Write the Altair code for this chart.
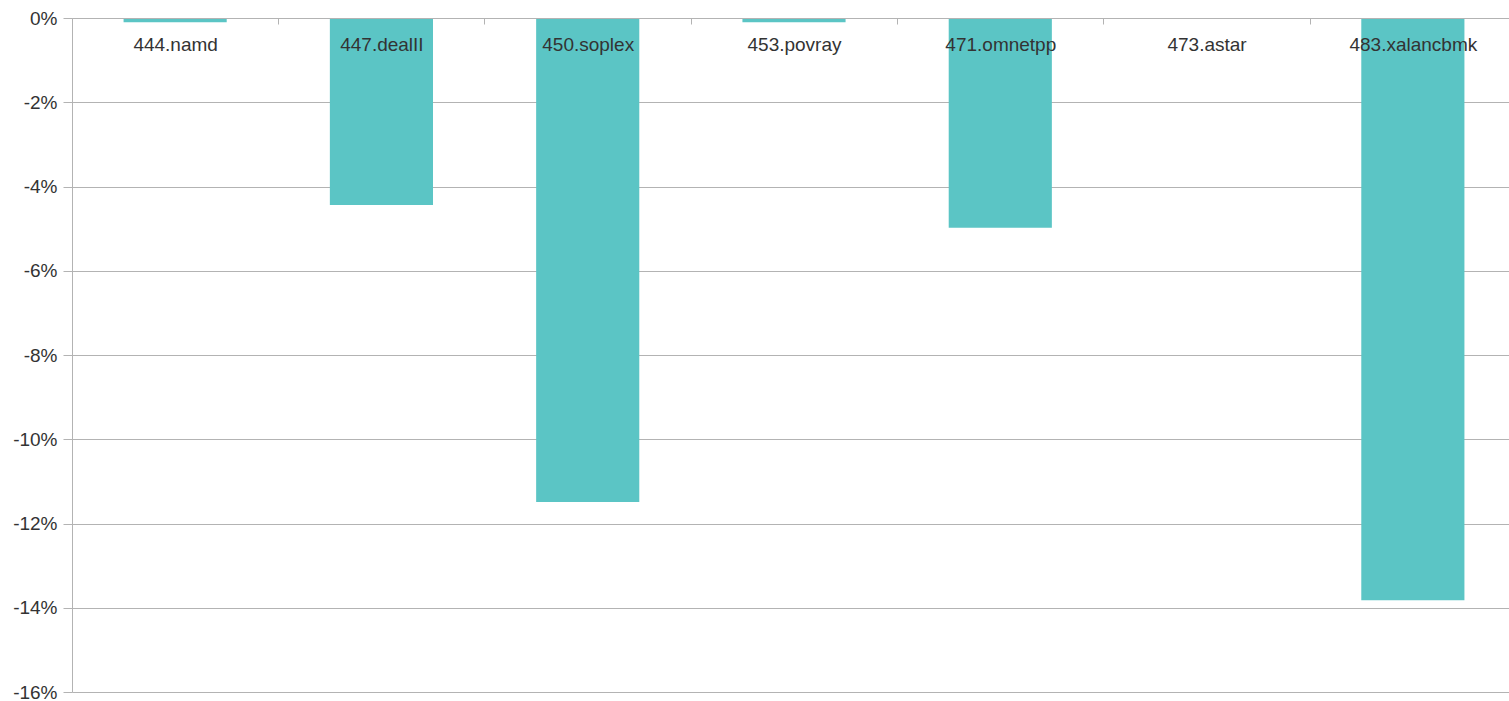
import altair as alt
import pandas as pd

benchmarks = ["444.namd", "447.dealII", "450.soplex", "453.povray",
              "471.omnetpp", "473.astar", "483.xalancbmk"]
change_pct = [-0.1, -4.44, -11.49, -0.1, -4.98, 0.0, -13.82]
y_ticks = [0, -2, -4, -6, -8, -10, -12, -14, -16]

df = pd.DataFrame({"benchmark": benchmarks, "change": change_pct})

FONT = "Liberation Sans"
GRID = "#b3b3b3"

chart = alt.Chart(df).mark_bar(color="#5bc5c5").encode(
    x=alt.X(
        "benchmark:N",
        sort=benchmarks,
        title=None,
        scale=alt.Scale(paddingInner=0.5, paddingOuter=0.25, range=[0, 1444]),
        axis=alt.Axis(
            orient="bottom",
            offset=-674,
            labelAngle=0,
            tickOffset=103,
            labelOffset=-103,
            tickSize=6,
            tickColor=GRID,
            domainColor=GRID,
            labelPadding=11,
            labelFontSize=19,
            labelFont=FONT,
            labelColor="#333333",
            grid=False,
            zindex=1,
        ),
    ),
    y=alt.Y(
        "change:Q",
        title=None,
        scale=alt.Scale(domain=[-16, 0], nice=False),
        axis=alt.Axis(
            values=y_ticks,
            labelExpr="datum.value + '%'",
            tickSize=9,
            tickColor=GRID,
            domainColor=GRID,
            gridColor=GRID,
            labelPadding=6,
            labelFontSize=19,
            labelFont=FONT,
            labelColor="#333333",
        ),
    ),
).properties(
    width=1437,
    height=674,
    autosize=alt.AutoSizeParams(type="none"),
    padding={"left": 72, "top": 18, "right": 0, "bottom": 9},
).configure_view(stroke=None)

chart.save("out.html", embed_options={"renderer": "svg", "actions": False})
